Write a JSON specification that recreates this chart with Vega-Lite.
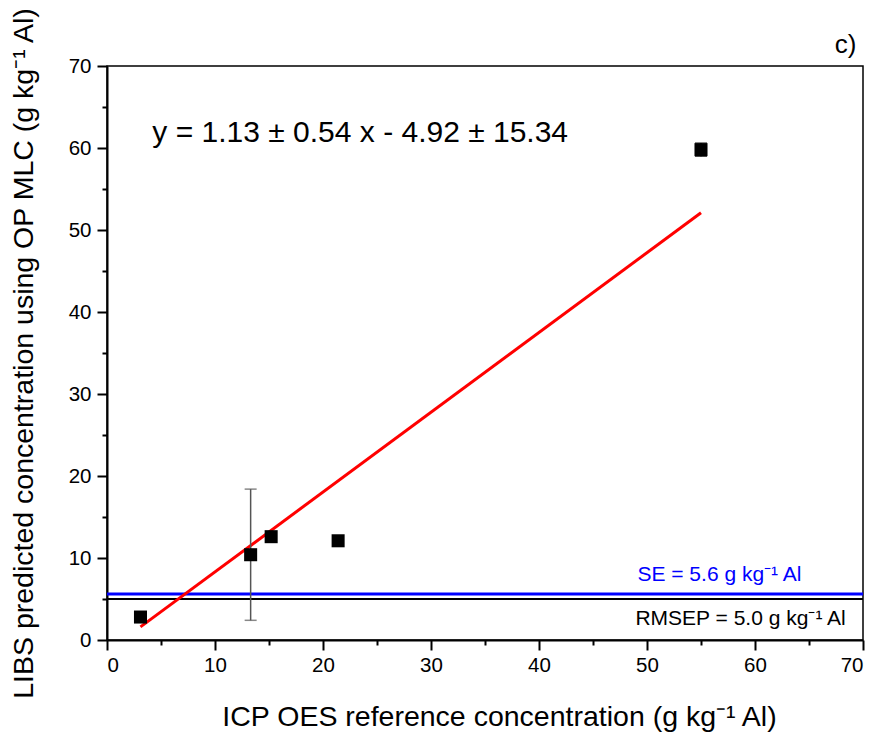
{
  "$schema": "https://vega.github.io/schema/vega-lite/v6.json",
  "width": 756,
  "height": 574,
  "autosize": {"type": "none"},
  "padding": {"left": 107, "top": 66, "right": 19, "bottom": 113},
  "background": "white",
  "config": {
    "font": "Liberation Sans",
    "view": {"stroke": "black", "strokeWidth": 1.5},
    "axis": {
      "domainColor": "black", "domainWidth": 2, "tickColor": "black", "tickWidth": 2,
      "labelFontSize": 20.5, "labelColor": "black", "titleFontSize": 28.5, "titleFontWeight": "normal",
      "titleColor": "black", "grid": false, "labelFont": "Liberation Sans", "titleFont": "Liberation Sans"
    }
  },
  "datasets": {
    "pts": [
      {"ref": 3.1, "pred": 2.8},
      {"ref": 13.3, "pred": 10.4},
      {"ref": 15.2, "pred": 12.6},
      {"ref": 21.4, "pred": 12.1},
      {"ref": 55.0, "pred": 59.8}
    ],
    "err": [
      {"ref": 13.3, "lo": 2.4, "hi": 18.4, "c": "grey"},
      {"ref": 55.0, "lo": 59.0, "hi": 60.6, "c": "black"}
    ],
    "fit": [
      {"ref": 3.1, "pred": 1.6},
      {"ref": 55.0, "pred": 52.1}
    ]
  },
  "layer": [
    {
      "data": {"values": [{"y": 5.0}]},
      "mark": {"type": "rule", "color": "black", "strokeWidth": 2},
      "encoding": {"y": {"field": "y", "type": "quantitative", "scale": {"domain": [0, 70], "nice": false}, "title": "LIBS predicted concentration using OP MLC (g kg⁻¹ Al)"}}
    },
    {
      "data": {"values": [{"y": 5.6}]},
      "mark": {"type": "rule", "color": "#0000ff", "strokeWidth": 3},
      "encoding": {"y": {"field": "y", "type": "quantitative", "title": "LIBS predicted concentration using OP MLC (g kg⁻¹ Al)"}}
    },
    {
      "data": {"name": "fit"},
      "mark": {"type": "line", "color": "#ff0000", "strokeWidth": 3},
      "encoding": {
        "x": {"field": "ref", "type": "quantitative", "title": "ICP OES reference concentration (g kg⁻¹ Al)"},
        "y": {"field": "pred", "type": "quantitative", "title": "LIBS predicted concentration using OP MLC (g kg⁻¹ Al)"}
      }
    },
    {
      "data": {"name": "err"},
      "mark": {"type": "errorbar", "ticks": {"size": 12, "thickness": 1.5}, "rule": {"strokeWidth": 1.5}},
      "encoding": {
        "x": {"field": "ref", "type": "quantitative", "title": "ICP OES reference concentration (g kg⁻¹ Al)"},
        "y": {"field": "lo", "type": "quantitative", "title": "LIBS predicted concentration using OP MLC (g kg⁻¹ Al)"},
        "y2": {"field": "hi"},
        "color": {"field": "c", "type": "nominal", "scale": {"domain": ["grey", "black"], "range": ["#555555", "#000000"]}, "legend": null}
      }
    },
    {
      "data": {"name": "pts"},
      "mark": {"type": "point", "shape": "square", "filled": true, "color": "black", "opacity": 1, "size": 170},
      "encoding": {
        "x": {
          "field": "ref", "type": "quantitative",
          "scale": {"domain": [0, 70], "nice": false},
          "title": "ICP OES reference concentration (g kg⁻¹ Al)",
          "axis": {
            "values": [0, 5, 10, 15, 20, 25, 30, 35, 40, 45, 50, 55, 60, 65, 70],
            "labelExpr": "datum.value % 10 === 0 ? datum.label : ''",
            "tickSize": {"condition": {"test": "datum.value % 10 !== 0", "value": 5}, "value": 10},
            "labelPadding": 5,
            "titlePadding": 27,
            "titleX": 392
          }
        },
        "y": {
          "field": "pred", "type": "quantitative",
          "scale": {"domain": [0, 70], "nice": false},
          "title": "LIBS predicted concentration using OP MLC (g kg⁻¹ Al)",
          "axis": {
            "values": [0, 5, 10, 15, 20, 25, 30, 35, 40, 45, 50, 55, 60, 65, 70],
            "labelExpr": "datum.value % 10 === 0 ? datum.label : ''",
            "tickSize": {"condition": {"test": "datum.value % 10 !== 0", "value": 5}, "value": 10},
            "labelPadding": 6,
            "titlePadding": 30
          }
        }
      }
    },
    {
      "data": {"values": [{"x": 4.2, "y": 61.8, "t": "y = 1.13 ± 0.54 x - 4.92 ± 15.34"}]},
      "mark": {"type": "text", "align": "left", "baseline": "middle", "fontSize": 30, "color": "black"},
      "encoding": {
        "x": {"field": "x", "type": "quantitative"},
        "y": {"field": "y", "type": "quantitative"},
        "text": {"field": "t"}
      }
    },
    {
      "data": {"values": [{"x": 64.3, "y": 7.9, "t": "SE = 5.6 g kg⁻¹ Al"}]},
      "mark": {"type": "text", "align": "right", "baseline": "middle", "fontSize": 21, "color": "#0000ff"},
      "encoding": {
        "x": {"field": "x", "type": "quantitative"},
        "y": {"field": "y", "type": "quantitative"},
        "text": {"field": "t"}
      }
    },
    {
      "data": {"values": [{"x": 68.4, "y": 2.6, "t": "RMSEP = 5.0 g kg⁻¹ Al"}]},
      "mark": {"type": "text", "align": "right", "baseline": "middle", "fontSize": 21, "color": "black"},
      "encoding": {
        "x": {"field": "x", "type": "quantitative"},
        "y": {"field": "y", "type": "quantitative"},
        "text": {"field": "t"}
      }
    },
    {
      "data": {"values": [{"x": 69.4, "y": 72.6, "t": "c)"}]},
      "mark": {"type": "text", "align": "right", "baseline": "middle", "fontSize": 26, "color": "black"},
      "encoding": {
        "x": {"field": "x", "type": "quantitative"},
        "y": {"field": "y", "type": "quantitative"},
        "text": {"field": "t"}
      }
    }
  ]
}
